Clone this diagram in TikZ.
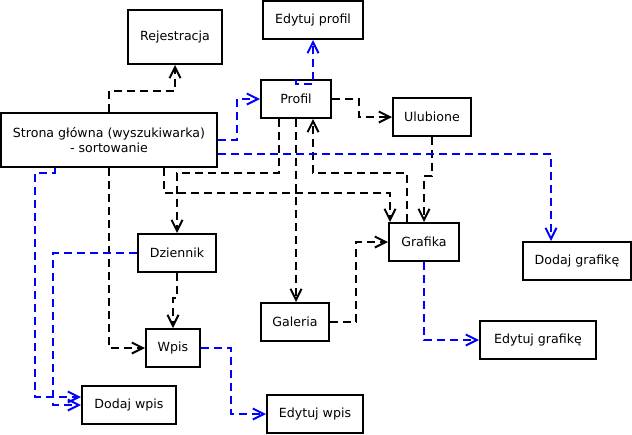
\documentclass[tikz,border=0pt]{standalone}
\usepackage{fontspec}
\setmainfont{DejaVu Sans}
\usetikzlibrary{arrows.meta}

\begin{document}
\begin{tikzpicture}[x=1pt, y=-1pt, every node/.style={font=\fontsize{12.6}{15}\selectfont},
  box/.style={draw, line width=2pt, inner sep=2pt, minimum height=38pt, align=center},
  >={Straight Barb[length=11pt,width=11pt]},
  dep/.style={draw, line width=2pt, dash pattern=on 8pt off 5pt, ->},
  bdep/.style={dep, blue}]
\useasboundingbox (0,0) rectangle (632,434);
% boxes
\node[box, minimum width=94pt, minimum height=54pt] (rejestracja) at (175,37) {Rejestracja};
\node[box, minimum width=100pt] (edprofil) at (313,20) {Edytuj profil};
\node[box, minimum width=70pt] (profil) at (296,99) {Profil};
\node[box, minimum width=78pt] (ulubione) at (432,117) {Ulubione};
\node[box, minimum width=216pt, minimum height=54pt] (strona) at (109,140) {Strona główna (wyszukiwarka)\\- sortowanie};
\node[box, minimum width=78pt] (dziennik) at (177,253) {Dziennik};
\node[box, minimum width=70pt] (grafika) at (424,242) {Grafika};
\node[box, minimum width=108pt] (dodgraf) at (577,261) {Dodaj grafikę};
\node[box, minimum width=68pt] (galeria) at (295,322) {Galeria};
\node[box, minimum width=54pt] (wpis) at (173,348) {Wpis};
\node[box, minimum width=116pt] (edgraf) at (538,340) {Edytuj grafikę};
\node[box, minimum width=94pt] (dodwpis) at (129,405) {Dodaj wpis};
\node[box, minimum width=96pt] (edwpis) at (315,414) {Edytuj wpis};
% black links
\draw[dep] (strona.north) -- ++(0,-21) -| (rejestracja.south);
\draw[dep] (profil.east) -- ++(27,0) |- (ulubione.west);
\draw[dep] ([xshift=-17pt]profil.south) -- ++(0,54) -| (dziennik.north);
\draw[dep] (profil.south) -- (profil.south |- galeria.north);
\draw[dep] ([xshift=-17pt]grafika.north) -- ++(0,-49) -| ([xshift=17pt]profil.south);
\draw[dep] (ulubione.south) -- ++(0,39) -| (grafika.north);
\draw[dep] ([xshift=55pt]strona.south) -- ++(0,25) -| ([xshift=-34pt]grafika.north);
\draw[dep] (galeria.east) -- ++(26,0) |- (grafika.west);
\draw[dep] (strona.south) |- (wpis.west);
\draw[dep] (dziennik.south) -- ++(0,25) -| (wpis.north);
% blue links
\draw[bdep] (strona.east) -- ++(19,0) |- (profil.west);
\draw[bdep] (profil.north) -- ++(0,5) -| (edprofil.south);
\draw[bdep] ([yshift=-14pt]strona.east) -| ([xshift=-26pt]dodgraf.north);
\draw[bdep] ([xshift=-54pt]strona.south) -- ++(0,5) -- ++(-20,0) |- ([yshift=8pt]dodwpis.west);
\draw[bdep] (dziennik.west) -- ++(-84,0) |- (dodwpis.west);
\draw[bdep] (wpis.east) -- ++(30,0) |- (edwpis.west);
\draw[bdep] (grafika.south) |- (edgraf.west);
\end{tikzpicture}
\end{document}
